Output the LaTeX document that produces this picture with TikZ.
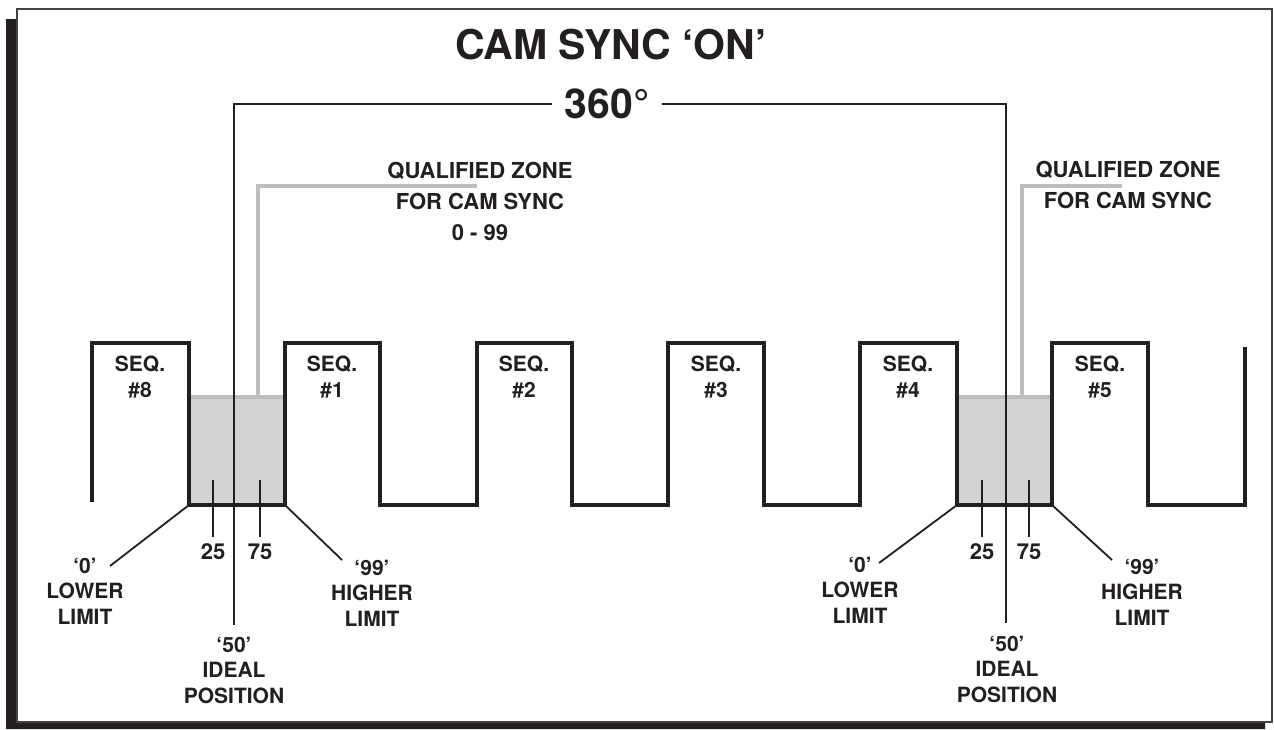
\documentclass[tikz,border=0pt]{standalone}
\usepackage{fontspec}
\setmainfont{TeX Gyre Heros}
\definecolor{inkc}{HTML}{231F20}
\definecolor{zonefill}{HTML}{D1D3D4}
\definecolor{zoneline}{HTML}{BCBEC0}
\begin{document}
\begin{tikzpicture}[x=1pt,y=-1pt,
  wave/.style={line width=4pt, draw=inkc, line join=miter},
  thin/.style={line width=1.8pt, draw=inkc},
  grayline/.style={line width=3.5pt, draw=zoneline},
  zone/.style={fill=zonefill, draw=none},
  lab/.style={font=\bfseries\fontsize{21}{25.5}\selectfont, text=inkc, align=center, inner sep=0pt},
  numlab/.style={font=\bfseries\fontsize{22}{26}\selectfont, text=inkc, inner sep=0pt},
  qlab/.style={font=\bfseries\fontsize{22}{31}\selectfont, text=inkc, align=center, inner sep=0pt},
  big/.style={font=\bfseries\fontsize{41}{45}\selectfont, text=inkc, inner sep=0pt}
]
\useasboundingbox (0,0) rectangle (1274,729);
\fill[white] (0,0) rectangle (1274,729);
% shadow and frame
\fill[inkc] (6,19) -- (17,19) -- (17,722) -- (1265,722) -- (1265,729) -- (6,729) -- cycle;
\draw[line width=2.4pt, draw=inkc!85] (17,9) rectangle (1272,722);

% qualified zones
\fill[zone] (189,397) rectangle (285,505);
\fill[zone] (957,397) rectangle (1052,505);
\draw[grayline] (189,397) -- (285,397);
\draw[grayline] (957,397) -- (1052,397);

% gray leaders
\coordinate (gL0) at (258,397);
\coordinate (gL1) at (258,186);
\coordinate (gL2) at (477,186);
\coordinate (gR0) at (1022,397);
\coordinate (gR1) at (1022,186);
\coordinate (gR2) at (1122,186);
\draw[grayline] (gL0) -- (gL1) -- (gL2);
\draw[grayline] (gR0) -- (gR1) -- (gR2);

% text nodes
\node[big] (title) at (611,45) {CAM SYNC ‘ON’};
\node[big, inner xsep=12pt] (t360) at (607,104) {360°};
\node[qlab] (qzL) at (480,201) {QUALIFIED ZONE\\FOR CAM SYNC\\0 - 99};
\node[qlab] (qzR) at (1128,185) {QUALIFIED ZONE\\FOR CAM SYNC};

% waveform
\draw[wave] (92,502) -- (92,343) -- (189,343) -- (189,505) -- (285,505) -- (285,343)
  -- (380,343) -- (380,505) -- (477,505) -- (477,343) -- (572,343) -- (572,505)
  -- (668,505) -- (668,343) -- (764,343) -- (764,505) -- (860,505) -- (860,343)
  -- (957,343) -- (957,505) -- (1052,505) -- (1052,343) -- (1148,343) -- (1148,505)
  -- (1245,505) -- (1245,347);

% sequence labels
\node[lab] (s8) at (140,377) {SEQ.\\\#8};
\node[lab] (s1) at (332,377) {SEQ.\\\#1};
\node[lab] (s2) at (524,377) {SEQ.\\\#2};
\node[lab] (s3) at (716,377) {SEQ.\\\#3};
\node[lab] (s4) at (908,377) {SEQ.\\\#4};
\node[lab] (s5) at (1100,377) {SEQ.\\\#5};

% 360 degree bracket
\coordinate (bL0) at (234,625);
\coordinate (bL1) at (234,104);
\coordinate (bR0) at (1006,623);
\coordinate (bR1) at (1006,104);
\draw[thin] (bL0) -- (bL1) -- (t360.west);
\draw[thin] (bR0) -- (bR1) -- (t360.east);

% ticks 25 / 75
\node[numlab] (n25L) at (213,552) {25};
\node[numlab] (n75L) at (260,552) {75};
\node[numlab] (n25R) at (982,552) {25};
\node[numlab] (n75R) at (1029,552) {75};
\coordinate (k25L) at (213,480);
\coordinate (k75L) at (260,480);
\coordinate (k25R) at (982,480);
\coordinate (k75R) at (1029,480);
\draw[thin, shorten >=7pt] (k25L) -- (n25L.north);
\draw[thin, shorten >=7pt] (k75L) -- (n75L.north);
\draw[thin, shorten >=7pt] (k25R) -- (n25R.north);
\draw[thin, shorten >=7pt] (k75R) -- (n75R.north);

% limit labels
\node[lab] (loL) at (85,591) {‘0’\\LOWER\\LIMIT};
\node[lab] (hiL) at (372,593) {‘99’\\HIGHER\\LIMIT};
\node[lab] (idL) at (234,670) {‘50’\\IDEAL\\POSITION};
\node[lab] (loR) at (860,590) {‘0’\\LOWER\\LIMIT};
\node[lab] (hiR) at (1142,592) {‘99’\\HIGHER\\LIMIT};
\node[lab] (idR) at (1007,669) {‘50’\\IDEAL\\POSITION};

% diagonal leaders
\coordinate (dL0) at (189,505);
\coordinate (dL1) at (110,566);
\coordinate (dL2) at (285,505);
\coordinate (dL3) at (342,560);
\coordinate (dR0) at (957,505);
\coordinate (dR1) at (879,563);
\coordinate (dR2) at (1052,505);
\coordinate (dR3) at (1112,560);
\draw[thin] (dL0) -- (dL1);
\draw[thin] (dL2) -- (dL3);
\draw[thin] (dR0) -- (dR1);
\draw[thin] (dR2) -- (dR3);
\end{tikzpicture}
\end{document}
